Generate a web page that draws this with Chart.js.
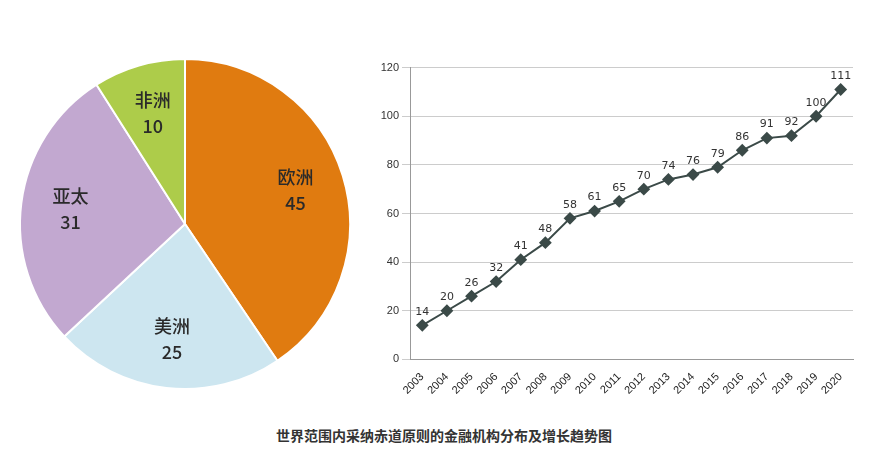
<!DOCTYPE html>
<html><head><meta charset="utf-8">
<script src="https://cdn.jsdelivr.net/npm/chart.js@4"></script>
<style>
body{margin:0;background:#fff;width:888px;height:465px;position:relative;overflow:hidden;font-family:"Noto Sans CJK SC",sans-serif}
#p{position:absolute;left:15px;top:54px;width:340px;height:340px}
#l{position:absolute;left:360px;top:58px;width:500px;height:342px}
#t{position:absolute;left:0;width:888px;top:425px;text-align:center;font-size:14px;font-weight:bold;color:#333}
</style></head><body>
<div id="p"><canvas id="pc"></canvas></div>
<div id="l"><canvas id="lc"></canvas></div>
<div id="t">世界范围内采纳赤道原则的金融机构分布及增长趋势图</div>
<script>
const regions=["欧洲","美洲","亚太","非洲"];
const regionValues=[45,25,31,10];
const regionColors=["#E07B10","#CDE6F0","#C2A8D0","#ADCC4A"];
const years=["2003","2004","2005","2006","2007","2008","2009","2010","2011","2012","2013","2014","2015","2016","2017","2018","2019","2020"];
const counts=[14,20,26,32,41,48,58,61,65,70,74,76,79,86,91,92,100,111];
const yTicks=[0,20,40,60,80,100,120];

const pieLabels={id:'pl',afterDatasetsDraw(c){const ctx=c.ctx;const m=c.getDatasetMeta(0);ctx.save();ctx.fillStyle='#2a2a2a';ctx.font='500 18px "Noto Sans CJK SC"';ctx.textAlign='center';ctx.textBaseline='middle';
m.data.forEach((a,i)=>{const p=a.getProps(['x','y','startAngle','endAngle','outerRadius']);const ang=(p.startAngle+p.endAngle)/2;const r=p.outerRadius*0.7;const x=p.x+Math.cos(ang)*r,y=p.y+Math.sin(ang)*r;
ctx.fillText(regions[i],x,y-13);ctx.fillText(String(regionValues[i]),x,y+13);});ctx.restore();}};
new Chart(document.getElementById('pc'),{type:'pie',data:{labels:regions,datasets:[{data:regionValues,backgroundColor:regionColors,borderColor:'#fff',borderWidth:2}]},
options:{responsive:true,maintainAspectRatio:false,animation:false,layout:{padding:4},plugins:{legend:{display:false},tooltip:{enabled:false}}},plugins:[pieLabels]});

const ptLabels={id:'ll',afterDatasetsDraw(c){const ctx=c.ctx;const m=c.getDatasetMeta(0);ctx.save();ctx.fillStyle='#333';ctx.font='11px "DejaVu Sans"';ctx.textAlign='center';ctx.textBaseline='bottom';
m.data.forEach((p,i)=>ctx.fillText(String(counts[i]),p.x,p.y-8));ctx.restore();}};
new Chart(document.getElementById('lc'),{type:'line',data:{labels:years,datasets:[{data:counts,borderColor:'#3B4A48',backgroundColor:'#3B4A48',borderWidth:2,pointStyle:'rectRot',pointRadius:5,tension:0}]},
options:{responsive:true,maintainAspectRatio:false,animation:false,layout:{padding:{top:8,right:5}},plugins:{legend:{display:false},tooltip:{enabled:false}},
scales:{x:{offset:true,grid:{display:false},border:{color:'#999'},ticks:{color:'#222',font:{size:11},maxRotation:45,minRotation:45}},
y:{min:0,max:120,afterBuildTicks(a){a.ticks=yTicks.map(v=>({value:v}));},afterFit(a){a.width=50;},grid:{color:'#ccc'},border:{color:'#999'},ticks:{color:'#333',font:{size:11}}}}},plugins:[ptLabels]});
</script></body></html>
